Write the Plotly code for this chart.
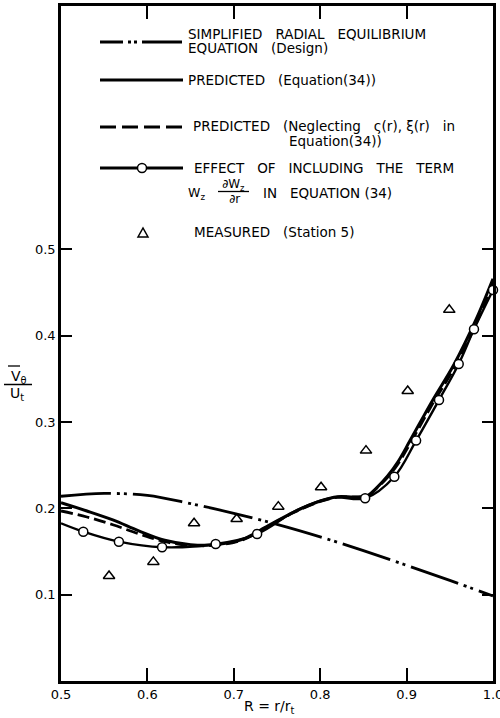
import plotly.graph_objects as go

# ---------------- data ----------------
R_design = [0.50, 0.55, 0.60, 0.65, 0.70, 0.75, 0.80, 0.85, 0.90, 0.95, 1.00]
V_design = [0.214, 0.2173, 0.215, 0.2055, 0.1943, 0.1815, 0.167, 0.151, 0.134, 0.1165, 0.0985]

R_pred = [0.50, 0.53, 0.56, 0.59, 0.62, 0.65, 0.68, 0.71, 0.74, 0.77, 0.80, 0.82, 0.84,
          0.855, 0.865, 0.878, 0.89, 0.904, 0.93, 0.955, 0.98, 1.00]
V_pred = [0.2066, 0.197, 0.1866, 0.174, 0.163, 0.158, 0.158, 0.164, 0.180, 0.196, 0.2085,
          0.2135, 0.2132, 0.2148, 0.2235, 0.2375, 0.254, 0.2785, 0.325, 0.367, 0.418, 0.466]

R_negl = R_pred
V_negl = [0.197, 0.190, 0.181, 0.1705, 0.1615, 0.157, 0.1575, 0.1635, 0.1795, 0.1955, 0.208,
          0.213, 0.213, 0.2145, 0.223, 0.236, 0.2515, 0.275, 0.321, 0.3625, 0.413, 0.462]

R_incl = [0.50, 0.5258, 0.567, 0.617, 0.679, 0.727, 0.775, 0.815, 0.852, 0.8858, 0.911,
          0.9375, 0.9603, 0.978, 1.0]
V_incl = [0.1827, 0.173, 0.1614, 0.155, 0.1587, 0.1703, 0.199, 0.2125, 0.2117, 0.2367,
          0.2785, 0.3256, 0.3673, 0.4075, 0.453]

R_circ = [0.5258, 0.567, 0.617, 0.679, 0.727, 0.852, 0.8858, 0.911, 0.9375, 0.9603, 0.978, 1.0]
V_circ = [0.173, 0.1614, 0.155, 0.1587, 0.1703, 0.2117, 0.2367, 0.2785, 0.3256, 0.3673, 0.4075, 0.453]

R_meas = [0.5556, 0.6069, 0.654, 0.7033, 0.7515, 0.801, 0.853, 0.9013, 0.9494]
V_meas = [0.1217, 0.138, 0.1827, 0.1877, 0.202, 0.2244, 0.2669, 0.336, 0.43]

x_ticks = [0.5, 0.6, 0.7, 0.8, 0.9, 1.0]
x_ticktext = ["0.5", "0.6", "0.7", "0.8", "0.9", "1.0"]
y_ticks = [0.1, 0.2, 0.3, 0.4, 0.5]
y_ticktext = ["0.1", "0.2", "0.3", "0.4", "0.5"]

legend_texts = [
    "SIMPLIFIED   RADIAL   EQUILIBRIUM",
    "EQUATION   (Design)",
    "PREDICTED   (Equation(34))",
    "PREDICTED   (Neglecting   ς(r), ξ(r)   in",
    "Equation(34))",
    "EFFECT   OF   INCLUDING   THE   TERM",
    "IN   EQUATION (34)",
    "MEASURED   (Station 5)",
]

# ---------------- layout geometry ----------------
W, H = 500, 718
ML, MR, MT, MB = 61, 7, 6, 37
PW, PH = W - ML - MR, H - MT - MB
FONT = "DejaVu Sans"
BLACK = "black"
LFS = 13.5  # legend font size

def px(X):
    return (X - ML) / PW

def py(Y):
    return (H - MB - Y) / PH

fig = go.Figure()
fig.add_trace(go.Scatter(x=R_design, y=V_design, mode="lines",
                         line=dict(color=BLACK, width=2.8, shape="spline",
                                   dash="50px,6px,3px,4px,3px,6px")))
fig.add_trace(go.Scatter(x=R_pred, y=V_pred, mode="lines",
                         line=dict(color=BLACK, width=3, shape="spline")))
fig.add_trace(go.Scatter(x=R_negl, y=V_negl, mode="lines",
                         line=dict(color=BLACK, width=2.8, shape="spline", dash="12px,5px")))
fig.add_trace(go.Scatter(x=R_incl, y=V_incl, mode="lines",
                         line=dict(color=BLACK, width=2.4, shape="spline")))
fig.add_trace(go.Scatter(x=R_circ, y=V_circ, mode="markers", cliponaxis=False,
                         marker=dict(symbol="circle", size=9, color="white",
                                     line=dict(color=BLACK, width=1.5))))
fig.add_trace(go.Scatter(x=R_meas, y=V_meas, mode="markers", cliponaxis=False,
                         marker=dict(symbol="triangle-up-open", size=10, color=BLACK,
                                     line=dict(color=BLACK, width=1.5))))

shapes = []
annotations = []

def hline(X0, X1, Y, width=3, dash="solid"):
    shapes.append(dict(type="line", xref="paper", yref="paper", x0=px(X0), x1=px(X1),
                       y0=py(Y), y1=py(Y), line=dict(color=BLACK, width=width, dash=dash)))

def text(X, Y, s, size=LFS, anchor="left"):
    annotations.append(dict(xref="paper", yref="paper", x=px(X), y=py(Y), text=s,
                            showarrow=False, xanchor=anchor, yanchor="middle",
                            font=dict(family=FONT, size=size, color=BLACK), borderpad=0))

# legend samples
hline(100, 182, 42, 2.8, "23px,5px,3px,3px,3px,5px,40px")
hline(100, 183, 80, 3)
hline(100, 183, 127, 2.8, "16px,6px")
hline(100, 183, 168, 3)
shapes.append(dict(type="circle", xref="paper", yref="paper", xsizemode="pixel",
                   ysizemode="pixel", xanchor=px(142), yanchor=py(168),
                   x0=-4.5, x1=4.5, y0=-4.5, y1=4.5, fillcolor="white",
                   line=dict(color=BLACK, width=1.5)))
shapes.append(dict(type="path", xref="paper", yref="paper", xsizemode="pixel",
                   ysizemode="pixel", xanchor=px(143), yanchor=py(233),
                   path="M -5 -4 L 5 -4 L 0 5 Z", line=dict(color=BLACK, width=1.5)))

# legend text
text(187, 34, legend_texts[0])
text(187, 48, legend_texts[1])
text(187, 80, legend_texts[2])
text(192, 126, legend_texts[3])
text(288, 141, legend_texts[4])
text(193, 168, legend_texts[5])
text(187, 193, "W<sub>z</sub>", size=12.5)
text(233, 185, "∂W<sub>z</sub>", size=12, anchor="center")
hline(218, 249, 191.5, 1.3)
text(234, 199, "∂r", size=12, anchor="center")
text(262, 193, legend_texts[6])
text(193, 232, legend_texts[7])

# y-axis title (fraction)
text(19, 377, "V<sub>θ</sub>", size=14, anchor="center")
hline(8, 20, 366, 1.3)
hline(4, 32, 384.5, 1.5)
text(17, 394, "U<sub>t</sub>", size=14, anchor="center")

# x-axis title
text(269, 707, "R = r/r<sub>t</sub>", size=14, anchor="center")

axis_common = dict(showgrid=False, zeroline=False, showline=True, linecolor=BLACK,
                   linewidth=2.5, ticks="inside", tickcolor=BLACK, tickwidth=2,
                   mirror="allticks", ticklabeloverflow="allow", automargin=False,
                   tickfont=dict(family=FONT, size=13, color=BLACK))

fig.update_layout(
    width=W, height=H, showlegend=False,
    margin=dict(l=ML, r=MR, t=MT, b=MB, pad=0, autoexpand=False),
    paper_bgcolor="white", plot_bgcolor="white",
    xaxis=dict(range=[0.5, 1.0], tickvals=x_ticks, ticktext=x_ticktext, ticklen=13,
               **axis_common),
    yaxis=dict(range=[0, 0.782], tickvals=y_ticks, ticktext=y_ticktext, ticklen=11,
               **axis_common),
    shapes=shapes, annotations=annotations,
)

fig.write_html("out.html")
